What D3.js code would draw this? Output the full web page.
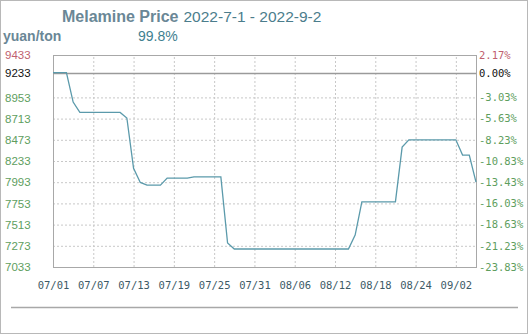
<!DOCTYPE html>
<html>
<head>
<meta charset="utf-8">
<script src="https://cdn.jsdelivr.net/npm/d3@7"></script>
<style>
  html, body { margin: 0; padding: 0; background: #fff; }
  svg { display: block; }
</style>
</head>
<body>
<div id="graph"></div>
<script>
// Daily price, index 0 = 07/01
const prices = [
  9233, 9233, 9233, 8900, 8783, 8783, 8783, 8783, 8783, 8783,
  8783, 8720, 8150, 7990, 7960, 7960, 7960, 8040, 8040, 8040,
  8040, 8053, 8053, 8053, 8053, 8053, 7305, 7237, 7237, 7237,
  7237, 7237, 7237, 7237, 7237, 7237, 7237, 7237, 7237, 7237,
  7237, 7237, 7237, 7237, 7237, 7395, 7770, 7770, 7770, 7770,
  7770, 7770, 8390, 8473, 8473, 8473, 8473, 8473, 8473, 8473,
  8473, 8300, 8300, 7993,
];

const xTickIndex = [0, 6, 12, 18, 24, 30, 36, 42, 48, 54, 60];
const xTickLabels = ["07/01", "07/07", "07/13", "07/19", "07/25", "07/31",
  "08/06", "08/12", "08/18", "08/24", "09/02"];

const yTicks = [9433, 9233, 8953, 8713, 8473, 8233, 7993, 7753, 7513, 7273, 7033];
const pctLabels = ["2.17%", "0.00%", "-3.03%", "-5.63%", "-8.23%", "-10.83%",
  "-13.43%", "-16.03%", "-18.63%", "-21.23%", "-23.83%"];
const basePrice = 9233;

const W = 528, H = 334;
const plot = { left: 53, top: 55, right: 476, bottom: 267 };

const x = d3.scaleLinear().domain([0, prices.length - 1]).range([plot.left, plot.right]);
const y = d3.scaleLinear().domain([7033, 9433]).range([plot.bottom, plot.top]);

const tickColor = v => v > basePrice ? "#c0606e" : v === basePrice ? "#111" : "#5e9e5e";

const svg = d3.select("#graph").append("svg")
  .attr("width", W).attr("height", H)
  .style("font-family", "'Liberation Sans', Arial, sans-serif");

// outer frame
svg.append("rect")
  .attr("x", 0.5).attr("y", 0.5)
  .attr("width", W - 1).attr("height", H - 1)
  .attr("fill", "#fff").attr("stroke", "#b8b8b8");

// titles
const title = svg.append("text").attr("x", 62).attr("y", 22);
title.append("tspan")
  .attr("font-size", 16).attr("font-weight", "bold").attr("fill", "#6a8796")
  .text("Melamine Price");
title.append("tspan")
  .attr("font-size", 15.5).attr("fill", "#4b7d8c").attr("dx", 5)
  .text("2022-7-1 - 2022-9-2");

svg.append("text")
  .attr("x", 3).attr("y", 41)
  .attr("font-size", 14).attr("font-weight", "bold").attr("fill", "#6a8796")
  .text("yuan/ton");

svg.append("text")
  .attr("x", 138).attr("y", 41)
  .attr("font-size", 14).attr("fill", "#3f8090")
  .text("99.8%");

// grid
const gridY = svg.append("g")
  .attr("transform", `translate(${plot.left},0)`)
  .call(d3.axisLeft(y)
    .tickValues(yTicks.filter(v => v !== basePrice && v !== 9433 && v !== 7033))
    .tickSize(-(plot.right - plot.left)).tickFormat(""));
gridY.select(".domain").remove();
gridY.selectAll("line")
  .attr("stroke", "#c8c8c8").attr("stroke-dasharray", "2,2");

const gridX = svg.append("g")
  .attr("transform", `translate(0,${plot.bottom})`)
  .call(d3.axisBottom(x)
    .tickValues(xTickIndex.slice(1))
    .tickSize(-(plot.bottom - plot.top)).tickFormat(""));
gridX.select(".domain").remove();
gridX.selectAll("line")
  .attr("stroke", "#c8c8c8").attr("stroke-dasharray", "2,2");

// plot frame
svg.append("rect")
  .attr("x", plot.left + 0.5).attr("y", plot.top + 0.5)
  .attr("width", plot.right - plot.left).attr("height", plot.bottom - plot.top)
  .attr("fill", "none").attr("stroke", "#a8a8a8");

// base price line
svg.append("line")
  .attr("x1", plot.left).attr("x2", plot.right)
  .attr("y1", Math.round(y(basePrice)) + 0.5).attr("y2", Math.round(y(basePrice)) + 0.5)
  .attr("stroke", "#9a9a9a").attr("stroke-width", 1.5);

// price line
svg.append("path")
  .datum(prices)
  .attr("fill", "none")
  .attr("stroke", "#5b9aab")
  .attr("stroke-width", 1.3)
  .attr("d", d3.line().x((d, i) => x(i)).y(d => y(d)));

// left axis labels
const leftAxis = svg.append("g")
  .attr("transform", "translate(5,0)")
  .call(d3.axisRight(y).tickValues(yTicks).tickSize(0).tickPadding(0).tickFormat(d3.format("d")));
leftAxis.select(".domain").remove();
leftAxis.selectAll("text")
  .attr("font-family", "'Liberation Sans', Arial, sans-serif")
  .attr("font-size", 11.5)
  .attr("fill", d => tickColor(d));

// right axis labels
const rightAxis = svg.append("g")
  .attr("transform", "translate(479,0)")
  .call(d3.axisRight(y).tickValues(yTicks).tickSize(0).tickPadding(0)
    .tickFormat((d, i) => pctLabels[i]));
rightAxis.select(".domain").remove();
rightAxis.selectAll("text")
  .attr("font-family", "'DejaVu Sans Mono', monospace")
  .attr("font-size", 10.5)
  .attr("fill", d => tickColor(d));

// bottom axis labels
const bottomAxis = svg.append("g")
  .attr("transform", `translate(0,${plot.bottom})`)
  .call(d3.axisBottom(x).tickValues(xTickIndex).tickSize(0).tickPadding(15)
    .tickFormat((d, i) => xTickLabels[i]));
bottomAxis.select(".domain").remove();
bottomAxis.selectAll("text")
  .attr("font-family", "'DejaVu Sans Mono', monospace")
  .attr("font-size", 10.5)
  .attr("fill", "#3d5a66");

// footer rule
svg.append("line")
  .attr("x1", 11).attr("x2", 518)
  .attr("y1", 307.5).attr("y2", 307.5)
  .attr("stroke", "#a8a8a8").attr("stroke-width", 1.5);
</script>
</body>
</html>
